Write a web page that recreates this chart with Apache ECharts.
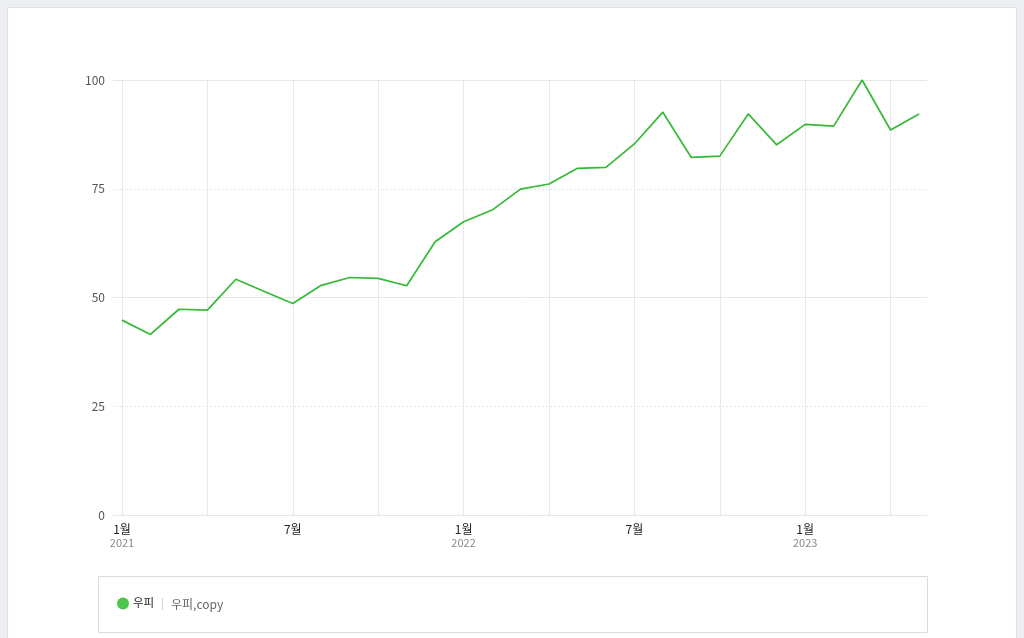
<!DOCTYPE html>
<html>
<head>
<meta charset="utf-8">
<script src="https://cdn.jsdelivr.net/npm/echarts@6/dist/echarts.min.js"></script>
<style>
html,body{margin:0;padding:0;width:1024px;height:638px;overflow:hidden;background:#eceef2;}
#card{position:absolute;left:7px;top:7px;width:1010px;height:640px;background:#fff;border:1px solid #dde0e6;box-sizing:border-box;}
#chart{position:absolute;left:0;top:0;width:1024px;height:638px;}
</style>
</head>
<body>
<div id="card"></div>
<div id="chart"></div>
<script>
// monthly categories Jan 2021 .. May 2023
var months = ['2021-01','2021-02','2021-03','2021-04','2021-05','2021-06','2021-07','2021-08','2021-09','2021-10','2021-11','2021-12',
              '2022-01','2022-02','2022-03','2022-04','2022-05','2022-06','2022-07','2022-08','2022-09','2022-10','2022-11','2022-12',
              '2023-01','2023-02','2023-03','2023-04','2023-05'];
var values = [44.8,41.5,47.3,47.1,54.2,51.4,48.6,52.8,54.6,54.4,52.7,62.8,
              67.4,70.1,74.9,76.1,79.7,79.9,85.3,92.6,82.2,82.5,92.2,85.1,
              89.8,89.4,100,88.5,92.2];
var yTicks = [0,25,50,75,100];
var seriesName = '우피';
var seriesName2 = '우피,copy';

var font = '"Noto Sans CJK KR", "Noto Sans", sans-serif';
var data = months.map(function(m,i){ return [i, values[i]]; });

var chart = echarts.init(document.getElementById('chart'), null, {renderer:'canvas'});
chart.setOption({
  backgroundColor: 'transparent',
  animation: false,
  textStyle: {fontFamily: font},
  grid: {left:122, right:97, top:80, bottom:123, containLabel:false},
  xAxis: {
    type:'value', min:0, max:28.28, interval:3,
    axisLine:{show:true, lineStyle:{color:'#e6e6e6', width:1}},
    axisTick:{show:false},
    splitLine:{show:true, showMaxLine:false, lineStyle:{color:'#e8e8e8', width:1}},
    axisLabel:{
      margin:7,
      showMaxLabel:false,
      formatter:function(v){
        if (Math.abs(v - Math.round(v))>1e-6) return '';
        var idx = Math.round(v);
        if (idx % 6 !== 0 || idx >= months.length) return '';
        var parts = months[idx].split('-');
        var mo = parseInt(parts[1],10) + '월';
        if (parts[1] === '01') return '{m|' + mo + '}\n{y|' + parts[0] + '}';
        return '{m|' + mo + '}';
      },
      rich:{
        m:{fontSize:12, color:'#222', fontFamily:font, lineHeight:14},
        y:{fontSize:11, color:'#8a8a8a', fontFamily:font, lineHeight:14}
      }
    }
  },
  yAxis: [
    {
      type:'value', min:0, max:100, interval:50,
      axisLine:{show:false},
      axisTick:{show:true, length:9, lineStyle:{color:'#e8e8e8'}},
      axisLabel:{show:false},
      splitLine:{show:true, lineStyle:{color:'#e8e8e8', width:1}}
    },
    {
      type:'value', min:0, max:100, interval:25, position:'left',
      axisLine:{show:false},
      axisTick:{show:true, length:9, lineStyle:{color:'#e6e6e6', type:[2,2]}},
      axisLabel:{margin:17, color:'#555', fontSize:12, fontFamily:font,
        formatter:function(v){ return yTicks.indexOf(v) >= 0 ? String(v) : ''; }},
      splitLine:{show:true, lineStyle:{color:'#e6e6e6', width:1, type:[2,2]}}
    }
  ],
  series: [{
    name: seriesName,
    type:'line',
    yAxisIndex:0,
    data:data,
    symbol:'none',
    lineStyle:{color:'#36b936', width:1.7},
    itemStyle:{color:'#36b936'},
    z:5
  }],
  graphic: [
    {type:'rect', shape:{x:98.5, y:576.5, width:829, height:56}, style:{fill:'#fff', stroke:'#dcdcdc', lineWidth:1}},
    {type:'circle', shape:{cx:123, cy:603.5, r:6}, style:{fill:'#4cc54c'}},
    {type:'text', x:133, y:603, style:{text:seriesName, fill:'#222', font:'11.5px ' + font, verticalAlign:'middle'}},
    {type:'text', x:161, y:603, style:{text:'|', fill:'#ccc', font:'11px ' + font, verticalAlign:'middle'}},
    {type:'text', x:171, y:604, style:{text:seriesName2, fill:'#666', font:'12px ' + font, verticalAlign:'middle'}}
  ]
});
</script>
</body>
</html>
